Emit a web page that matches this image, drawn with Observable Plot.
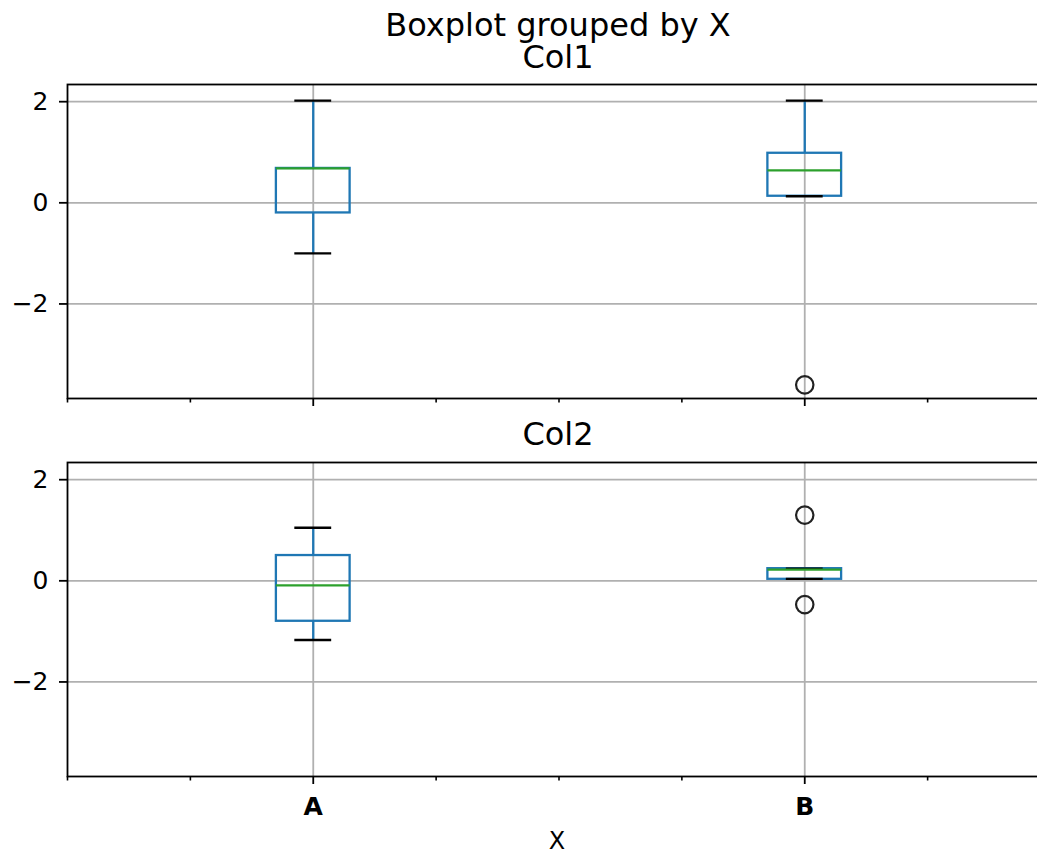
<!DOCTYPE html>
<html>
<head>
<meta charset="utf-8">
<script src="https://cdn.jsdelivr.net/npm/d3@7"></script>
<script src="https://cdn.jsdelivr.net/npm/@observablehq/plot@0.6"></script>
<style>
  html, body { margin: 0; padding: 0; background: white; }
  #fig { position: relative; width: 1037px; height: 856px; overflow: hidden; background: white; font-family: "DejaVu Sans", sans-serif; color: #000; }
  .ttl { position: absolute; white-space: nowrap; transform: translateX(-50%); line-height: 0.9; }
  .panel { position: absolute; left: 0; width: 1050px; }
  .panel svg { max-width: none !important; }
</style>
</head>
<body>
<div id="fig">
  <div class="ttl" style="left:558px; top:10.5px; font-size:32px;">Boxplot grouped by X</div>
  <div class="ttl" style="left:558px; top:43px; font-size:32px;">Col1</div>
  <div class="ttl" style="left:558px; top:419.5px; font-size:32px;">Col2</div>
  <div class="ttl" style="left:557px; top:831px; font-size:24px;">X</div>
  <div class="panel" id="p1" style="top:70px;"></div>
  <div class="panel" id="p2" style="top:450px;"></div>
</div>
<script>
// ---- data ----
const categories = ["A", "B"];
const yTicks = [-2, 0, 2];
const yLimits = [-3.87, 2.34];

// Col1 five-number summaries per category
const col1Whislo = [-1.00, 0.13];
const col1Q1     = [-0.20, 0.13];
const col1Median = [0.68, 0.64];
const col1Q3     = [0.68, 0.98];
const col1Whishi = [2.02, 2.02];
const col1Fliers = [[], [-3.60]];

// Col2 five-number summaries per category
const col2Whislo = [-1.17, 0.04];
const col2Q1     = [-0.80, 0.03];
const col2Median = [-0.09, 0.22];
const col2Q3     = [0.50, 0.24];
const col2Whishi = [1.05, 0.24];
const col2Fliers = [[], [1.30, -0.47]];

// ---- build tables ----
const positions = categories.map((c, i) => i + 1);
const xDomain = [0.5, categories.length + 0.5];
const minorTicks = d3.range(xDomain[0], xDomain[1] + 0.001, 0.25).filter(v => !positions.includes(v));
const boxW = 0.15, capW = boxW / 2;

function rows(lo, q1, med, q3, hi) {
  return categories.map((c, i) => ({cat: c, pos: positions[i], lo: lo[i], q1: q1[i], med: med[i], q3: q3[i], hi: hi[i]}));
}
function fliers(f) {
  return f.flatMap((vals, i) => vals.map(v => ({pos: positions[i], v})));
}

const BLUE = "#1f77b4", GREEN = "#2ca02c", GRID = "#b0b0b0";
const TICK_FONT = 25;

function panel(data, out, opts) {
  const {height, marginTop, marginBottom, labels} = opts;
  return Plot.plot({
    width: 1050,
    height,
    marginLeft: 67,
    marginRight: 0,
    marginTop,
    marginBottom,
    style: {fontFamily: "DejaVu Sans", fontSize: TICK_FONT + "px", color: "black", background: "transparent", overflow: "visible", maxWidth: "none"},
    x: {type: "linear", domain: xDomain, axis: null},
    y: {domain: yLimits, axis: null},
    marks: [
      Plot.gridX(positions, {stroke: GRID, strokeOpacity: 1, strokeWidth: 1.8}),
      Plot.gridY(yTicks, {stroke: GRID, strokeOpacity: 1, strokeWidth: 1.8}),
      // whiskers
      Plot.ruleX(data, {x: "pos", y1: "lo", y2: "q1", stroke: BLUE, strokeWidth: 2.3}),
      Plot.ruleX(data, {x: "pos", y1: "q3", y2: "hi", stroke: BLUE, strokeWidth: 2.3}),
      // boxes
      Plot.rect(data, {x1: d => d.pos - boxW / 2, x2: d => d.pos + boxW / 2, y1: "q1", y2: "q3", fill: "none", stroke: BLUE, strokeWidth: 2.3}),
      // caps
      Plot.ruleY(data, {y: "lo", x1: d => d.pos - capW / 2, x2: d => d.pos + capW / 2, stroke: "black", strokeWidth: 2.3}),
      Plot.ruleY(data, {y: "hi", x1: d => d.pos - capW / 2, x2: d => d.pos + capW / 2, stroke: "black", strokeWidth: 2.3}),
      // medians
      Plot.ruleY(data, {y: "med", x1: d => d.pos - boxW / 2, x2: d => d.pos + boxW / 2, stroke: GREEN, strokeWidth: 2.3}),
      // fliers
      Plot.dot(out, {x: "pos", y: "v", r: 8.7, stroke: "#222", strokeWidth: 2.2, fill: "none"}),
      Plot.frame({stroke: "black", strokeWidth: 1.8}),
      Plot.axisY(yTicks, {label: null, tickSize: 8, tickPadding: 11, strokeWidth: 1.8, fontSize: TICK_FONT, tickFormat: d3.format("d")}),
      Plot.axisX(minorTicks, {label: null, tickSize: 4.5, strokeWidth: 1.6, tickFormat: () => ""}),
      Plot.axisX(positions, {label: null, tickSize: 8, tickPadding: 13, strokeWidth: 1.8, fontSize: TICK_FONT, fontWeight: "bold",
        tickFormat: labels ? (p => categories[p - 1]) : (() => "")})
    ]
  });
}

document.getElementById("p1").append(panel(rows(col1Whislo, col1Q1, col1Median, col1Q3, col1Whishi), fliers(col1Fliers),
  {height: 340, marginTop: 14, marginBottom: 12, labels: false}));
document.getElementById("p2").append(panel(rows(col2Whislo, col2Q1, col2Median, col2Q3, col2Whishi), fliers(col2Fliers),
  {height: 406, marginTop: 12, marginBottom: 80, labels: true}));
</script>
</body>
</html>
